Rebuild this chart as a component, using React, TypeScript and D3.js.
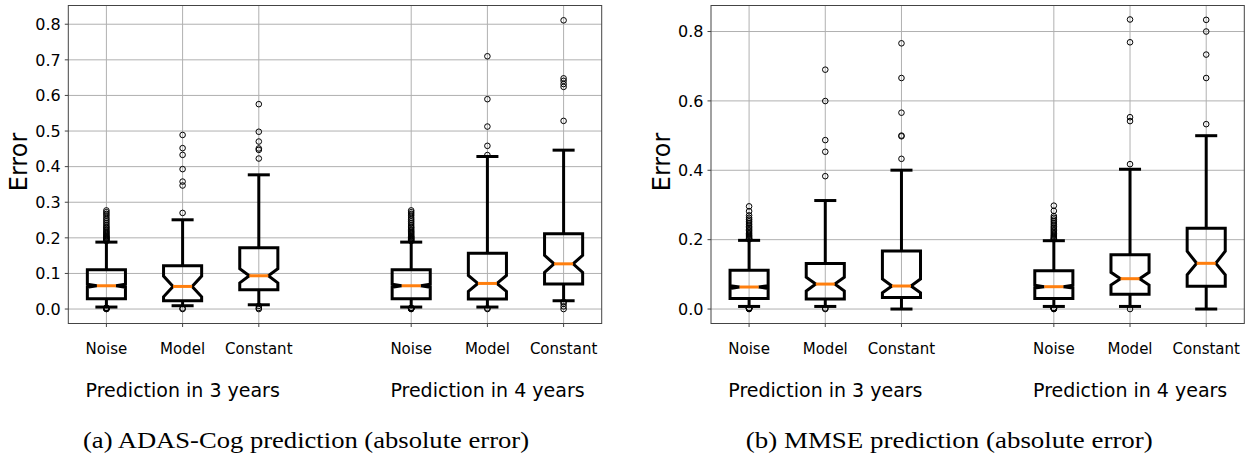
import React from "react";
import * as d3 from "d3";

const categories = ["Noise", "Model", "Constant"];
const groupLabels = ["Prediction in 3 years", "Prediction in 4 years"];
const boxPositions = [1, 2, 3, 5, 6, 7];

// (a) ADAS-Cog
const adasQ1 = [0.029, 0.0233, 0.054, 0.029, 0.028, 0.07];
const adasMedian = [0.0654, 0.0635, 0.0935, 0.0654, 0.0719, 0.127];
const adasQ3 = [0.1106, 0.1215, 0.172, 0.1106, 0.157, 0.2114];
const adasNotchLo = [0.0614, 0.0345, 0.0735, 0.0614, 0.0494, 0.103];
const adasNotchHi = [0.0694, 0.0925, 0.1135, 0.0694, 0.0944, 0.151];
const adasWhiskerLo = [0.0056, 0.0093, 0.012, 0.0056, 0.0056, 0.0233];
const adasWhiskerHi = [0.188, 0.2507, 0.377, 0.188, 0.4284, 0.4463];
const adasFliers = [
  [0.191, 0.193, 0.195, 0.197, 0.199, 0.201, 0.203, 0.205, 0.208, 0.211, 0.214, 0.217, 0.22, 0.224, 0.228, 0.231, 0.236, 0.241, 0.246, 0.251, 0.256, 0.262, 0.267, 0.272, 0.277, 0.0, 0.0005, 0.001, 0.0015, 0.002, 0.0025, 0.003, 0.0035],
  [0.27, 0.347, 0.358, 0.393, 0.433, 0.452, 0.489, 0.0, 0.002],
  [0.4228, 0.447, 0.451, 0.4705, 0.498, 0.5755, 0.0, 0.003, 0.009],
  [0.191, 0.193, 0.195, 0.197, 0.199, 0.201, 0.203, 0.205, 0.208, 0.211, 0.214, 0.217, 0.22, 0.224, 0.228, 0.231, 0.236, 0.241, 0.246, 0.251, 0.256, 0.262, 0.267, 0.272, 0.277, 0.0, 0.0005, 0.001, 0.0015, 0.002, 0.0025, 0.003, 0.0035],
  [0.4325, 0.4584, 0.5126, 0.5895, 0.71, 0.0, 0.002],
  [0.5285, 0.624, 0.632, 0.641, 0.648, 0.811, 0.0, 0.0075, 0.015, 0.02],
];

// (b) MMSE
const mmseQ1 = [0.0306, 0.0289, 0.0336, 0.0306, 0.0423, 0.0654];
const mmseMedian = [0.0635, 0.072, 0.0664, 0.0644, 0.0875, 0.1318];
const mmseQ3 = [0.1115, 0.131, 0.1675, 0.1106, 0.1568, 0.2329];
const mmseNotchLo = [0.0595, 0.052, 0.047, 0.0604, 0.0693, 0.099];
const mmseNotchHi = [0.0675, 0.092, 0.0864, 0.0684, 0.1058, 0.1665];
const mmseWhiskerLo = [0.0075, 0.0075, 0.0, 0.0075, 0.0075, 0.0];
const mmseWhiskerHi = [0.198, 0.3128, 0.4003, 0.197, 0.403, 0.4997];
const mmseFliers = [
  [0.201, 0.203, 0.205, 0.208, 0.211, 0.214, 0.218, 0.222, 0.226, 0.23, 0.234, 0.238, 0.243, 0.248, 0.253, 0.258, 0.263, 0.27, 0.282, 0.296, 0.0, 0.0005, 0.001, 0.0015, 0.002, 0.0025, 0.003],
  [0.383, 0.4534, 0.487, 0.5996, 0.69, 0.0, 0.002],
  [0.433, 0.498, 0.5, 0.566, 0.666, 0.766],
  [0.201, 0.203, 0.205, 0.208, 0.211, 0.214, 0.218, 0.222, 0.226, 0.23, 0.234, 0.238, 0.243, 0.248, 0.253, 0.258, 0.263, 0.268, 0.283, 0.298, 0.0, 0.0005, 0.001, 0.0015, 0.002, 0.0025, 0.003],
  [0.4177, 0.5418, 0.553, 0.769, 0.8347, 0.0],
  [0.533, 0.666, 0.7335, 0.8, 0.8336],
];

const adasTicks = [0, 0.1, 0.2, 0.3, 0.4, 0.5, 0.6, 0.7, 0.8];
const mmseTicks = [0, 0.2, 0.4, 0.6, 0.8];

const SANS = "'DejaVu Sans', sans-serif";
const SERIF = "'Liberation Serif', 'DejaVu Serif', serif";

type PanelProps = {
  left: number;
  right: number;
  q1: number[];
  med: number[];
  q3: number[];
  ciLo: number[];
  ciHi: number[];
  wLo: number[];
  wHi: number[];
  fliers: number[][];
  yDomain: [number, number];
  yTicks: number[];
  caption: string;
  captionCenter: number;
  captionWidth: number;
  ylabelX: number;
};

function Panel(p: PanelProps) {
  const top = 5.5;
  const bottom = 323.5;
  const x = d3.scaleLinear().domain([0.5, 7.5]).range([p.left, p.right]);
  const y = d3.scaleLinear().domain(p.yDomain).range([bottom, top]);
  const unit = x(1) - x(0);
  const bw = 0.5 * unit;
  const grid = "#b0b0b0";
  const axisColor = "#444";
  const fmt = d3.format(".1f");

  return (
    <g>
      {p.yTicks.map((t) => (
        <line key={"gy" + t} x1={p.left} x2={p.right} y1={y(t)} y2={y(t)} stroke={grid} strokeWidth={1} />
      ))}
      {boxPositions.map((pos) => (
        <line key={"gx" + pos} x1={x(pos)} x2={x(pos)} y1={top} y2={bottom} stroke={grid} strokeWidth={1} />
      ))}
      {boxPositions.map((pos, i) => {
        const cx = x(pos);
        const l = cx - bw / 2;
        const r = cx + bw / 2;
        const cl = cx - bw / 4;
        const cr = cx + bw / 4;
        const path = d3.path();
        path.moveTo(l, y(p.q1[i]));
        path.lineTo(r, y(p.q1[i]));
        path.lineTo(r, y(p.ciLo[i]));
        path.lineTo(cr, y(p.med[i]));
        path.lineTo(r, y(p.ciHi[i]));
        path.lineTo(r, y(p.q3[i]));
        path.lineTo(l, y(p.q3[i]));
        path.lineTo(l, y(p.ciHi[i]));
        path.lineTo(cl, y(p.med[i]));
        path.lineTo(l, y(p.ciLo[i]));
        path.closePath();
        return (
          <g key={"b" + pos}>
            <line x1={cx} x2={cx} y1={y(p.q1[i])} y2={y(p.wLo[i])} stroke="#000" strokeWidth={3} />
            <line x1={cx} x2={cx} y1={y(p.q3[i])} y2={y(p.wHi[i])} stroke="#000" strokeWidth={3} />
            <line x1={cl} x2={cr} y1={y(p.wLo[i])} y2={y(p.wLo[i])} stroke="#000" strokeWidth={3} strokeLinecap="square" />
            <line x1={cl} x2={cr} y1={y(p.wHi[i])} y2={y(p.wHi[i])} stroke="#000" strokeWidth={3} strokeLinecap="square" />
            <path d={path.toString()} fill="none" stroke="#000" strokeWidth={3} strokeLinejoin="miter" />
            <line x1={cl} x2={cr} y1={y(p.med[i])} y2={y(p.med[i])} stroke="#ff7f0e" strokeWidth={3} />
            {p.fliers[i].map((v, j) => (
              <circle key={j} cx={cx} cy={y(v)} r={2.8} fill="none" stroke="#000" strokeWidth={1} />
            ))}
          </g>
        );
      })}
      <rect x={p.left} y={top} width={p.right - p.left} height={bottom - top} fill="none" stroke={axisColor} strokeWidth={1} />
      {p.yTicks.map((t) => (
        <g key={"ty" + t}>
          <line x1={p.left - 3.5} x2={p.left} y1={y(t)} y2={y(t)} stroke={axisColor} strokeWidth={1} />
          <text x={p.left - 7.5} y={y(t)} dy="0.36em" textAnchor="end" fontFamily={SANS} fontSize={16} fill="#000">
            {fmt(t)}
          </text>
        </g>
      ))}
      {boxPositions.map((pos, i) => (
        <g key={"tx" + pos}>
          <line x1={x(pos)} x2={x(pos)} y1={bottom} y2={bottom + 3.5} stroke={axisColor} strokeWidth={1} />
          <text x={x(pos)} y={353.5} textAnchor="middle" fontFamily={SANS} fontSize={15} fill="#000">
            {categories[i % 3]}
          </text>
        </g>
      ))}
      {groupLabels.map((g, gi) => (
        <text key={g} x={x(boxPositions[gi * 3]) - 20.8} y={396.7} textAnchor="start" fontFamily={SANS} fontSize={19} fill="#000">
          {g}
        </text>
      ))}
      <text
        transform={`translate(${p.ylabelX},162) rotate(-90)`}
        textAnchor="middle"
        fontFamily={SANS}
        fontSize={24}
        fill="#000"
      >
        Error
      </text>
      <text
        x={p.captionCenter}
        y={448}
        textAnchor="middle"
        fontFamily={SERIF}
        fontSize={23}
        fill="#000"
        textLength={p.captionWidth}
        lengthAdjust="spacingAndGlyphs"
      >
        {p.caption}
      </text>
    </g>
  );
}

export default function App() {
  return (
    <svg
      width={1249}
      height={460}
      viewBox="0 0 1249 460"
      style={{ position: "absolute", left: 0, top: 0, background: "#fff" }}
    >
      <rect x={0} y={0} width={1249} height={460} fill="#fff" />
      <Panel
        left={68.3}
        right={601.7}
        q1={adasQ1}
        med={adasMedian}
        q3={adasQ3}
        ciLo={adasNotchLo}
        ciHi={adasNotchHi}
        wLo={adasWhiskerLo}
        wHi={adasWhiskerHi}
        fliers={adasFliers}
        yDomain={[-0.0406, 0.8526]}
        yTicks={adasTicks}
        caption="(a) ADAS-Cog prediction (absolute error)"
        captionCenter={306}
        captionWidth={446}
        ylabelX={27}
      />
      <Panel
        left={711}
        right={1244.3}
        q1={mmseQ1}
        med={mmseMedian}
        q3={mmseQ3}
        ciLo={mmseNotchLo}
        ciHi={mmseNotchHi}
        wLo={mmseWhiskerLo}
        wHi={mmseWhiskerHi}
        fliers={mmseFliers}
        yDomain={[-0.04167, 0.875]}
        yTicks={mmseTicks}
        caption="(b) MMSE prediction (absolute error)"
        captionCenter={949.3}
        captionWidth={407}
        ylabelX={669.5}
      />
    </svg>
  );
}
